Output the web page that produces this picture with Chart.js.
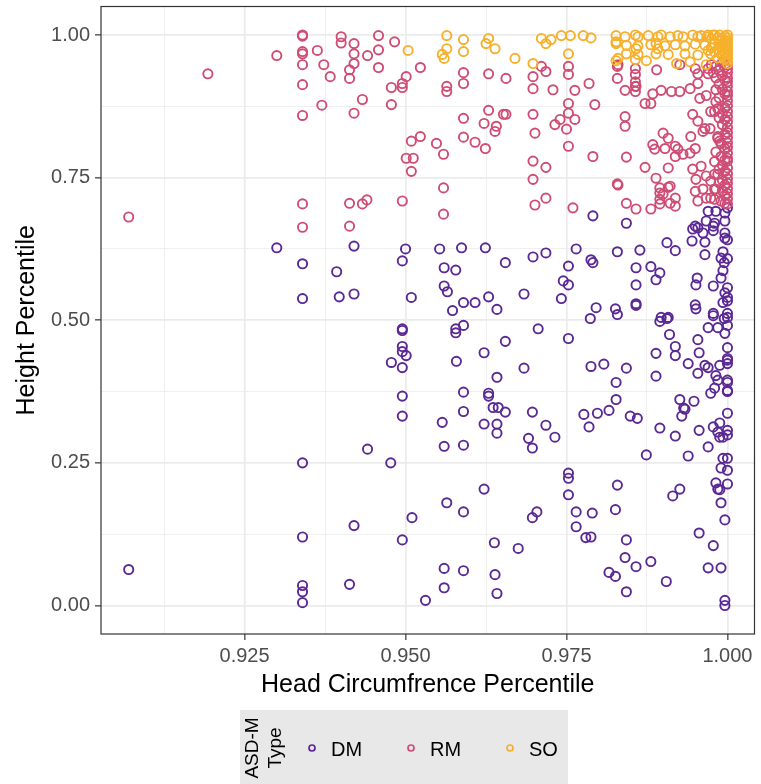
<!DOCTYPE html>
<html>
<head>
<meta charset="utf-8">
<script src="https://cdn.jsdelivr.net/npm/chart.js@4.4.1/dist/chart.umd.min.js"></script>
<style>
  html, body { margin: 0; padding: 0; background: #fff; }
  canvas { display: block; }
</style>
</head>
<body>
<canvas id="scatter" width="761" height="784"></canvas>
<script>
// [head circumference percentile, height percentile]
const dmPoints = [
  [0.907,0.063],[0.930,0.627],[0.934,0.599],[0.934,0.538],[0.9393,0.585],[0.942,0.630],[0.9397,0.541],[0.942,0.546],
  [0.934,0.250],[0.9441,0.274],[0.934,0.120],[0.942,0.140],[0.934,0.035],[0.934,0.024],[0.934,0.005],[0.9413,0.037],
  [0.9791,0.683],[0.9843,0.670],[0.9765,0.625],[0.9718,0.618],[0.9698,0.611],[0.9655,0.601],[0.9624,0.627],[0.9587,0.627],
  [0.9553,0.625],[0.95,0.625],[0.9495,0.604],[0.956,0.592],[0.9578,0.588],[0.956,0.560],[0.9565,0.550],[0.9509,0.540],
  [0.959,0.531],[0.9608,0.531],[0.9629,0.541],[0.9642,0.519],[0.9573,0.517],[0.9684,0.546],[0.9742,0.538],[0.9745,0.569],
  [0.9753,0.562],[0.9753,0.595],[0.9788,0.606],[0.9791,0.601],[0.9796,0.522],[0.9787,0.503],[0.9495,0.485],[0.9578,0.485],
  [0.959,0.491],[0.9706,0.485],
  [0.997,0.691],[0.9982,0.691],[0.9996,0.688],[1.0,0.697],[0.9967,0.674],[0.998,0.670],[0.9996,0.674],[0.995,0.665],
  [0.9946,0.660],[0.9954,0.662],[0.9962,0.653],[0.9978,0.665],[0.9978,0.657],[0.9996,0.653],[0.9996,0.644],[1.0,0.641],
  [0.9945,0.639],[0.9965,0.637],[0.9906,0.636],[0.9919,0.622],[0.9829,0.620],[0.9864,0.623],[0.9965,0.615],[0.9993,0.620],
  [0.999,0.609],[1.0,0.608],[0.9995,0.601],[0.9858,0.592],[0.9881,0.594],[0.9895,0.583],[0.9889,0.571],[0.9858,0.562],
  [0.9953,0.574],[0.9951,0.562],[0.9978,0.560],[0.999,0.574],[1.0,0.557],[0.9996,0.548],[1.0,0.540],[0.9993,0.587],
  [0.9858,0.529],[0.9858,0.526],[0.995,0.527],[0.9951,0.520],[0.9826,0.520],[0.9829,0.510],[0.9978,0.512],[1.0,0.512],
  [1.0,0.505],[0.9993,0.531],[1.0,0.534],[0.9897,0.505],[0.9908,0.505],
  [0.9495,0.482],[0.9495,0.454],[0.9495,0.445],[0.9501,0.438],[0.9478,0.426],[0.9495,0.417],[0.9495,0.367],[0.9495,0.332],
  [0.9477,0.250],[0.9495,0.115],[0.951,0.154],[0.9531,0.009],[0.9557,0.321],[0.956,0.279],[0.9579,0.428],[0.959,0.374],
  [0.959,0.340],[0.959,0.281],[0.9564,0.180],[0.959,0.164],[0.956,0.065],[0.956,0.031],[0.959,0.061],[0.9578,0.478],
  [0.9622,0.443],[0.9622,0.318],[0.9622,0.204],[0.9629,0.372],[0.9629,0.367],[0.9636,0.347],[0.9644,0.347],[0.9642,0.400],
  [0.9642,0.318],[0.9642,0.302],[0.9655,0.463],[0.9655,0.339],[0.9638,0.110],[0.9639,0.054],[0.9642,0.021],[0.9675,0.100],
  [0.9684,0.416],[0.9691,0.293],[0.9697,0.276],[0.9697,0.339],[0.9697,0.154],[0.9704,0.164],[0.9718,0.316],[0.9732,0.295],
  [0.9753,0.468],[0.9753,0.232],[0.9753,0.223],[0.9753,0.194],[0.9765,0.164],[0.9765,0.138],[0.9777,0.335],[0.9785,0.313],
  [0.9798,0.337],[0.979,0.162],[0.978,0.119],[0.9788,0.120],[0.9788,0.419],[0.9808,0.423],[0.9816,0.342],[0.9827,0.391],
  [0.9827,0.361],[0.9843,0.416],[0.9849,0.332],[0.986,0.328],[0.9829,0.211],[0.9826,0.168],[0.9843,0.115],[0.9841,0.084],
  [0.9858,0.068],[0.9816,0.058],[0.9826,0.051],[0.9843,0.024],[0.9874,0.264],[0.9881,0.077],[0.9889,0.442],[0.9889,0.402],
  [0.9895,0.311],[0.9905,0.042],[0.991,0.475],[0.9919,0.454],[0.9919,0.438],[0.9919,0.297],[0.9926,0.361],[0.9934,0.344],
  [0.9929,0.332],[0.9915,0.192],[0.9926,0.204],[0.9939,0.424],[0.9939,0.262],[0.9948,0.358],[0.9954,0.466],[0.9956,0.443],
  [0.9954,0.407],[0.9965,0.421],[0.997,0.417],[0.9956,0.307],[0.997,0.278],[0.9956,0.127],[0.997,0.066],[0.9978,0.105],
  [0.9974,0.372],[0.998,0.381],[0.9978,0.313],[0.9985,0.304],[0.9988,0.295],[0.9982,0.215],[0.9985,0.204],[0.999,0.066],
  [0.999,0.180],[0.9996,0.150],[0.9996,0.009],[0.9996,0.0],[1.0,0.452],[1.0,0.430],[1.0,0.424],[1.0,0.395],
  [1.0,0.375],[1.0,0.337],[1.0,0.258],[1.0,0.237],[1.0,0.213],[0.9895,0.498],[0.9906,0.503],[0.9978,0.508],
  [0.9995,0.503],[1.0,0.491],[0.9985,0.487],[0.997,0.487],[0.9996,0.477],[1.0,0.433],[0.9988,0.421],[0.9982,0.403],
  [0.9985,0.395],[1.0,0.391],[1.0,0.377],[0.9932,0.346],[0.9993,0.295],[1.0,0.299],[1.0,0.307],[0.9988,0.320],
  [0.9993,0.258],[0.999,0.241],[0.9988,0.203]
];

const rmPoints = [
  [0.907,0.681],[0.9193,0.932],[0.930,0.964],[0.934,1.0],[0.934,0.998],[0.934,0.971],[0.934,0.967],[0.934,0.948],
  [0.934,0.913],[0.934,0.859],[0.934,0.704],[0.934,0.663],[0.9363,0.973],[0.9373,0.948],[0.9383,0.927],[0.937,0.877],
  [0.940,0.997],[0.940,0.986],[0.942,0.985],[0.942,0.967],[0.942,0.950],[0.9413,0.939],[0.9413,0.924],[0.9441,0.964],
  [0.9433,0.887],[0.942,0.863],[0.9413,0.705],[0.9433,0.704],[0.944,0.711],[0.9413,0.665],[0.9458,0.999],[0.9458,0.974],
  [0.9458,0.943],
  [0.9483,0.988],[0.9478,0.908],[0.9478,0.878],[0.9495,0.915],[0.9495,0.908],[0.9501,0.927],[0.9523,0.943],[0.9509,0.814],
  [0.9523,0.822],[0.9501,0.784],[0.9512,0.784],[0.9509,0.761],[0.9495,0.709],[0.9559,0.732],[0.9559,0.686],[0.959,0.934],
  [0.959,0.915],[0.9564,0.910],[0.9564,0.901],[0.9629,0.932],[0.9656,0.924],[0.9698,0.927],[0.9698,0.906],[0.9711,0.945],
  [0.9718,0.936],[0.9729,0.904],[0.9753,0.945],[0.9753,0.931],[0.9763,0.903],[0.9785,0.915],[0.9794,0.878],[0.9829,0.945],
  [0.9829,0.924],[0.9841,0.903],[0.9857,0.941],[0.9857,0.931],[0.9857,0.918],[0.9857,0.910],[0.9857,0.901],[0.9872,0.880],
  [0.9881,0.880],[0.989,0.939],[0.9884,0.897],[0.9897,0.903],[0.9913,0.901],[0.9926,0.901],[0.9942,0.906],[0.9954,0.915],
  [0.9957,0.889],[0.9967,0.894],
  [0.959,0.854],[0.9629,0.868],[0.9622,0.845],[0.9641,0.840],[0.9639,0.831],[0.9652,0.861],[0.9656,0.861],[0.9698,0.861],
  [0.9701,0.828],[0.9732,0.843],[0.974,0.852],[0.9753,0.880],[0.9753,0.863],[0.975,0.835],[0.9763,0.852],[0.9753,0.805],
  [0.9841,0.857],[0.9841,0.840],[0.959,0.821],[0.9608,0.812],[0.9624,0.801],[0.9548,0.810],[0.9559,0.791],[0.9698,0.779],
  [0.9718,0.768],[0.9698,0.747],[0.9701,0.702],[0.9718,0.714],[0.976,0.697],[0.9791,0.787],[0.9843,0.786],[0.9872,0.768],
  [0.9829,0.739],[0.983,0.737],[0.9843,0.705],[0.9858,0.695],[0.9881,0.695],[0.9884,0.808],[0.9887,0.800],[0.99,0.828],
  [0.9908,0.819],[0.9903,0.801],[0.9919,0.805],[0.9923,0.800],[0.9919,0.787],[0.9931,0.791],[0.9942,0.793],[0.995,0.801],
  [0.9943,0.822],[0.9946,0.861],[0.9954,0.849],[0.9962,0.831],[0.9973,0.836],[0.9974,0.866],[0.9985,0.819],[0.9988,0.814],
  [0.9889,0.749],[0.9895,0.732],[0.9895,0.723],[0.9895,0.712],[0.9895,0.704],[0.9908,0.767],[0.9911,0.735],[0.9919,0.714],
  [0.9919,0.700],[0.9946,0.765],[0.9959,0.770],[0.9951,0.747],[0.9967,0.753],[0.9974,0.744],[0.995,0.726],[0.9962,0.730],
  [0.998,0.730],[0.9954,0.709],[0.9974,0.714],[0.999,0.709],[0.9985,0.756],[0.9996,0.761],[1.0,0.784],
  [0.983,0.948],[0.9858,0.910],[0.9926,0.948],[0.995,0.941],[0.9954,0.932],[0.997,0.932],[0.9965,0.836],
  [0.9985,0.822],[0.999,0.810],[0.9996,0.801],[0.999,0.787],[1.0,0.779],[1.0,0.767],[0.9982,0.904],[0.9982,0.883],
  [0.9985,0.871],[0.998,0.866],[0.99,0.721],[0.9908,0.733],[0.9911,0.705],[0.998,0.756],[0.9982,0.730],[0.9967,0.714],
  [0.998,0.712],[0.9996,0.705],
  [1.0,0.948],[1.0,0.941],[1.0,0.934],[1.0,0.925],[1.0,0.918],[1.0,0.910],[1.0,0.901],[1.0,0.894],
  [1.0,0.885],[1.0,0.876],[1.0,0.866],[1.0,0.857],[1.0,0.848],[1.0,0.838],[1.0,0.829],[1.0,0.820],
  [1.0,0.811],[1.0,0.803],[1.0,0.793],[1.0,0.757],[1.0,0.748],[1.0,0.740],[1.0,0.731],[1.0,0.722],
  [1.0,0.713],[1.0,0.704],[0.9996,0.944],[0.9996,0.921],[0.9996,0.897],[0.9996,0.873],[0.9996,0.852],[0.9996,0.826],
  [0.9996,0.781],[0.9996,0.737],[0.9996,0.719],[0.9992,0.952],[0.9992,0.929],[0.9992,0.905],[0.9992,0.862],[0.9992,0.843],
  [0.9992,0.772],[0.9992,0.746],[0.9992,0.727],[0.9987,0.938],[0.9987,0.914],[0.9987,0.890],[0.9987,0.855],[0.9987,0.765],
  [0.9987,0.741],[0.9982,0.945],[0.9982,0.925],[0.9978,0.934],[0.9975,0.948],[0.997,0.941],[0.9982,0.795],[0.998,0.778]
];

const soPoints = [
  [0.9504,0.973],[0.9564,0.999],[0.9564,0.976],[0.9557,0.966],[0.956,0.959],[0.959,0.992],[0.959,0.971],[0.9629,0.994],
  [0.9625,0.985],[0.9639,0.976],[0.967,0.959],[0.9711,0.994],[0.9718,0.985],[0.9726,0.992],[0.9742,0.999],[0.9756,0.999],
  [0.9753,0.967],[0.9776,0.999],[0.9788,0.995],[0.9698,0.950],
  [0.9827,0.999],[0.9841,0.997],[0.9857,1.0],[0.9861,0.997],[0.9877,0.999],[0.9892,0.997],[0.9897,1.0],[0.9911,0.997],
  [0.9923,0.999],[0.9931,0.997],[0.9946,1.0],[0.9954,0.997],[0.9959,0.999],[0.997,0.997],[0.9978,1.0],
  [0.9827,0.985],[0.9843,0.982],[0.9861,0.981],[0.9881,0.983],[0.9889,0.985],[0.9903,0.981],[0.9919,0.983],[0.9934,0.981],
  [0.995,0.984],[0.9965,0.982],
  [0.9843,0.967],[0.9861,0.966],[0.9889,0.967],[0.9908,0.966],[0.9934,0.967],[0.9954,0.965],[0.9974,0.967],
  [0.9827,0.955],[0.9857,0.957],[0.9874,0.955],[0.9921,0.950],[0.9942,0.953],[0.9967,0.948],[1.0,0.950],[1.0,0.955],
  [0.9858,0.976],[0.9892,0.976],[0.9827,0.988],[0.983,0.959],
  [1.0,1.0],[1.0,0.995],[1.0,0.99],[1.0,0.985],[1.0,0.98],[1.0,0.975],[1.0,0.97],[1.0,0.965],
  [1.0,0.96],[0.9996,0.998],[0.9996,0.988],[0.9996,0.978],[0.9996,0.968],[0.9996,0.958],[0.9992,0.993],[0.9992,0.983],
  [0.9992,0.973],[0.9992,0.963],[0.9988,1.0],[0.9988,0.99],[0.9988,0.98],[0.9988,0.97],[0.9985,0.995],[0.9985,0.975],
  [0.9985,0.96],[0.998,1.0],[0.998,0.985],[0.998,0.97],[0.9975,0.993],[0.9975,0.978],[0.997,1.0],[0.997,0.973]
];

const groups = ["DM", "RM", "SO"];
const xTicks = [0.925, 0.95, 0.975, 1.0];
const xMinor = [0.9125, 0.9375, 0.9625, 0.9875];
const yTicks = [0, 0.25, 0.5, 0.75, 1.0];
const yMinor = [0.125, 0.375, 0.625, 0.875];

const colors = ["#5B2894", "#CF4D75", "#F6B02B"];
const FONT = "'Liberation Sans', Arial, sans-serif";

const seriesData = [dmPoints, rmPoints, soPoints];

const isMajor = (list, v) => list.some(t => Math.abs(t - v) < 1e-9);

function gridOpts(majors) {
  return {
    color: "#EBEBEB",
    lineWidth: ctx => isMajor(majors, ctx.tick.value) ? 1.7 : 0.8,
    tickLength: 6,
    tickWidth: 1.2,
    tickColor: ctx => isMajor(majors, ctx.tick.value) ? "#333333" : "rgba(0,0,0,0)"
  };
}

function noPad(s) {
  s.paddingLeft = 0;
  s.paddingRight = 0;
  s.paddingTop = 0;
  s.paddingBottom = 0;
}

const panelBorder = {
  id: "panelBorder",
  afterDatasetsDraw(chart) {
    const { ctx, chartArea: a } = chart;
    ctx.save();
    ctx.strokeStyle = "#333333";
    ctx.lineWidth = 1.2;
    ctx.strokeRect(a.left, a.top, a.right - a.left, a.bottom - a.top);
    ctx.restore();
  }
};

const bottomLegend = {
  id: "bottomLegend",
  afterDraw(chart) {
    const ctx = chart.ctx;
    ctx.save();
    ctx.fillStyle = "#E8E8E8";
    ctx.fillRect(240, 710, 328, 74);

    ctx.fillStyle = "#000";
    ctx.font = "19px " + FONT;
    ctx.textAlign = "center";
    ctx.textBaseline = "middle";
    ["ASD-M", "Type"].forEach((line, i) => {
      ctx.save();
      ctx.translate(253 + i * 23, 748);
      ctx.rotate(-Math.PI / 2);
      ctx.fillText(line, 0, 0);
      ctx.restore();
    });

    const keyX = [312, 411, 510];
    ctx.font = "20px " + FONT;
    groups.forEach((g, i) => {
      ctx.beginPath();
      ctx.arc(keyX[i], 748, 3, 0, Math.PI * 2);
      ctx.strokeStyle = colors[i];
      ctx.lineWidth = 1.7;
      ctx.stroke();
      ctx.fillStyle = "#000";
      ctx.textAlign = "left";
      ctx.fillText(g, keyX[i] + 19, 750);
    });
    ctx.restore();
  }
};

new Chart(document.getElementById("scatter"), {
  type: "scatter",
  data: {
    datasets: groups.map((g, i) => ({
      label: g,
      data: seriesData[i].map(p => ({ x: p[0], y: p[1] })),
      borderColor: colors[i],
      backgroundColor: "rgba(0,0,0,0)",
      pointRadius: 4.6,
      pointBorderWidth: 1.9,
      order: 3 - i
    }))
  },
  options: {
    responsive: false,
    animation: false,
    events: [],
    layout: { padding: { left: 0, right: 0, top: 6, bottom: 78 } },
    plugins: { legend: { display: false }, tooltip: { enabled: false } },
    scales: {
      x: {
        type: "linear",
        min: 0.9027,
        max: 1.0042,
        afterBuildTicks: s => { s.ticks = xMinor.concat(xTicks).sort((a, b) => a - b).map(v => ({ value: v })); },
        afterFit: s => { s.height = 72; noPad(s); },
        border: { display: false },
        grid: gridOpts(xTicks),
        ticks: {
          autoSkip: false,
          maxRotation: 0,
          padding: 4,
          color: "#4D4D4D",
          font: { family: FONT, size: 20 },
          callback: v => isMajor(xTicks, v) ? v.toFixed(3) : ""
        },
        title: {
          display: true,
          text: "Head Circumfrence Percentile",
          color: "#000",
          font: { family: FONT, size: 25 },
          padding: { top: 0, bottom: 6 }
        }
      },
      y: {
        type: "linear",
        min: -0.05,
        max: 1.05,
        afterBuildTicks: s => { s.ticks = yMinor.concat(yTicks).sort((a, b) => a - b).map(v => ({ value: v })); },
        afterFit: s => { s.width = 101; noPad(s); },
        border: { display: false },
        grid: gridOpts(yTicks),
        ticks: {
          autoSkip: false,
          padding: 5,
          color: "#4D4D4D",
          font: { family: FONT, size: 20 },
          callback: v => isMajor(yTicks, v) ? v.toFixed(2) : ""
        },
        title: {
          display: true,
          text: "Height Percentile",
          color: "#000",
          font: { family: FONT, size: 25 },
          padding: { top: 12, bottom: 0 }
        }
      }
    }
  },
  plugins: [panelBorder, bottomLegend]
});
</script>
</body>
</html>
